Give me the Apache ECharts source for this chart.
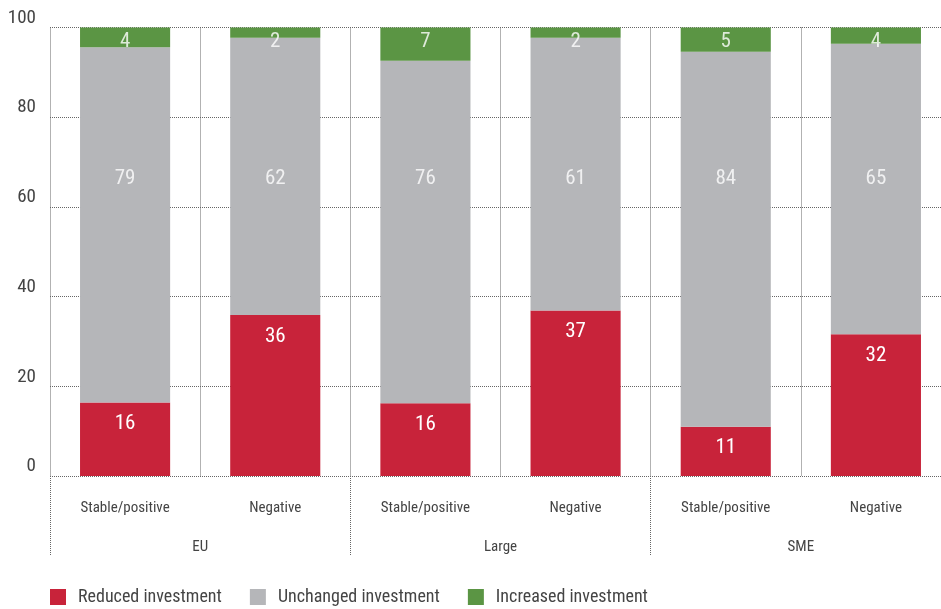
<!DOCTYPE html>
<html>
<head>
<meta charset="utf-8">
<script src="https://cdn.jsdelivr.net/npm/echarts@6/dist/echarts.min.js"></script>
<style>
  html, body { margin: 0; padding: 0; background: #fff; }
  #chart { width: 941px; height: 609px; }
</style>
</head>
<body>
<div id="chart"></div>
<script>
// Share of firms (%) by outlook, split into reduced / unchanged / increased investment
const categories = ['Stable/positive', 'Negative', 'Stable/positive', 'Negative', 'Stable/positive', 'Negative'];
const groups = ['EU', 'Large', 'SME'];
const reduced = [16.4, 35.9, 16.2, 36.9, 11.0, 31.6];
const unchanged = [79.2, 61.8, 76.4, 60.8, 83.6, 64.8];
const increased = [4.4, 2.3, 7.4, 2.3, 5.4, 3.6];
const yTicks = [0, 20, 40, 60, 80, 100];

// Heights (axis units) at which the unchanged / increased value labels sit
const unchangedLabelLevel = 66.3;
const increasedLabelLevel = 96.8;

const FONT = "'Roboto Condensed', 'Liberation Sans Narrow', Roboto, sans-serif";
const RED = '#C8233A', GREY = '#B5B6B9', GREEN = '#5B9544';
const DOT = { color: '#666', width: 1, type: [1, 1] };

const chart = echarts.init(document.getElementById('chart'), null, { renderer: 'canvas' });

const labelSeries = (values, level) => ({
  type: 'scatter',
  xAxisIndex: 0,
  yAxisIndex: 0,
  symbolSize: 0,
  silent: true,
  z: 10,
  data: values.map((v, i) => [i, level, v]),
  label: {
    show: true,
    position: 'inside',
    color: '#fff',
    fontFamily: FONT,
    fontSize: 21,
    formatter: p => Math.round(p.value[2])
  }
});

chart.setOption({
  animation: false,
  textStyle: { fontFamily: FONT },
  // the plot runs slightly past the right edge of the canvas
  grid: { left: 50, width: 901, top: 27.5, bottom: 133, outerBoundsMode: 'none' },
  legend: {
    data: ['Reduced investment', 'Unchanged investment', 'Increased investment'],
    left: 45,
    top: 583,
    icon: 'rect',
    itemWidth: 16,
    itemHeight: 16,
    itemGap: 28,
    textStyle: { fontFamily: FONT, fontSize: 18, color: '#444', padding: [0, 0, 0, 7] }
  },
  xAxis: [
    {
      type: 'category',
      data: categories,
      axisLine: { show: false },
      axisTick: { show: false },
      axisLabel: { margin: 25, fontFamily: FONT, fontSize: 15, color: '#444', interval: 0 },
      splitLine: { show: true, lineStyle: DOT }
    },
    {
      type: 'category',
      data: groups,
      position: 'bottom',
      axisLine: { show: false },
      axisTick: { show: true, length: 79, lineStyle: DOT },
      axisLabel: { margin: 64, fontFamily: FONT, fontSize: 15, color: '#444', interval: 0 },
      splitLine: { show: false }
    }
  ],
  yAxis: {
    type: 'value',
    min: yTicks[0],
    max: yTicks[yTicks.length - 1],
    interval: yTicks[1] - yTicks[0],
    axisLine: { show: false },
    axisTick: { show: false },
    axisLabel: { margin: 14, fontFamily: FONT, fontSize: 19, color: '#444', verticalAlign: 'bottom' },
    splitLine: { show: true, lineStyle: DOT }
  },
  series: [
    {
      name: 'Reduced investment',
      type: 'bar',
      stack: 'total',
      barWidth: '60%',
      itemStyle: { color: RED },
      data: reduced,
      label: {
        show: true,
        position: 'insideTop',
        distance: 11,
        color: '#fff',
        fontFamily: FONT,
        fontSize: 21,
        formatter: p => Math.round(p.value)
      }
    },
    {
      name: 'Unchanged investment',
      type: 'bar',
      stack: 'total',
      barWidth: '60%',
      itemStyle: { color: GREY },
      data: unchanged
    },
    {
      name: 'Increased investment',
      type: 'bar',
      stack: 'total',
      barWidth: '60%',
      itemStyle: { color: GREEN },
      data: increased
    },
    labelSeries(unchanged, unchangedLabelLevel),
    labelSeries(increased, increasedLabelLevel)
  ]
});
</script>
</body>
</html>
